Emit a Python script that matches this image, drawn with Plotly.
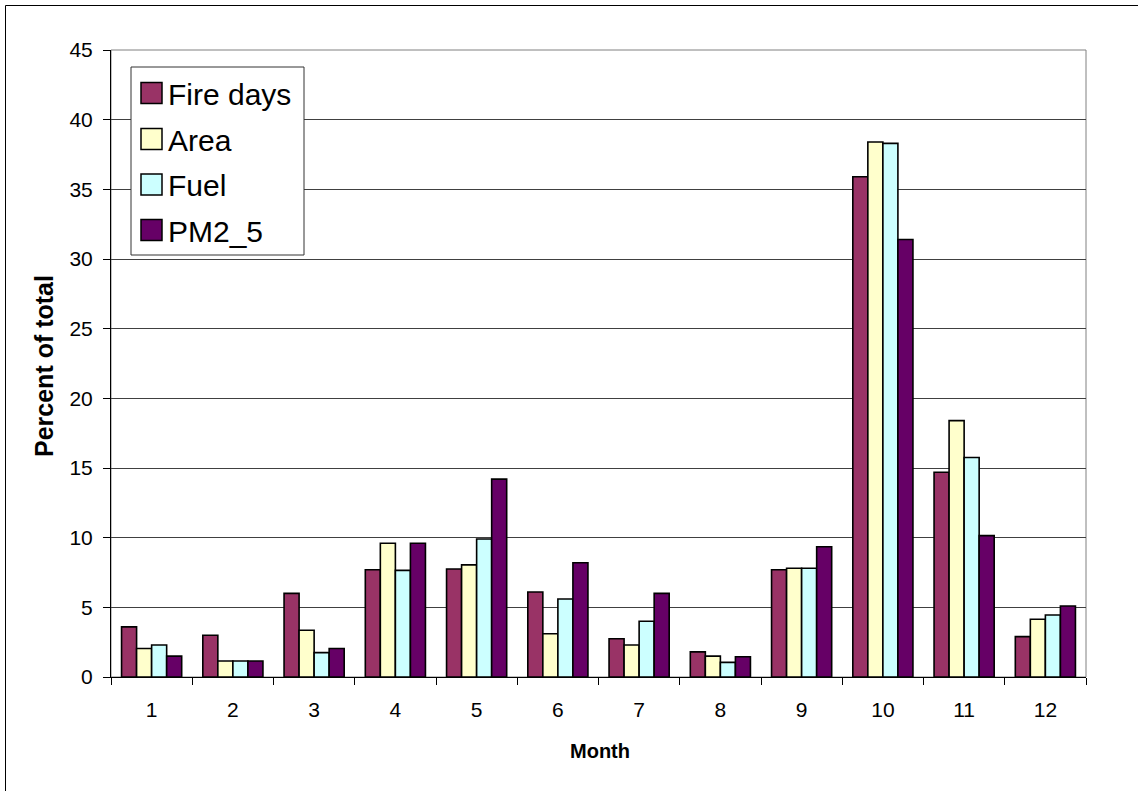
import plotly.graph_objects as go

months = ["1", "2", "3", "4", "5", "6", "7", "8", "9", "10", "11", "12"]
series_names = ["Fire days", "Area", "Fuel", "PM2_5"]
fire_days = [3.6, 3.0, 6.0, 7.7, 7.75, 6.1, 2.75, 1.8, 7.7, 35.9, 14.7, 2.9]
area = [2.05, 1.15, 3.35, 9.6, 8.05, 3.1, 2.3, 1.5, 7.8, 38.4, 18.4, 4.15]
fuel = [2.3, 1.15, 1.75, 7.65, 9.9, 5.6, 4.0, 1.05, 7.8, 38.3, 15.75, 4.45]
pm25 = [1.5, 1.15, 2.05, 9.6, 14.2, 8.2, 6.0, 1.45, 9.35, 31.4, 10.15, 5.1]
colors = ["#993366", "#FFFFCC", "#CCFFFF", "#660066"]
y_ticks = [0, 5, 10, 15, 20, 25, 30, 35, 40, 45]

FONT = "Arial, 'Liberation Sans', sans-serif"

# plot area in pixels
W, H = 1138, 791
L, R, T, B = 111, 1086, 50, 677
PW, PH = R - L, B - T


def px(x):
    return (x - L) / PW


def py(y):
    return (B - y) / PH


fig = go.Figure()
for name, vals, col in zip(series_names, [fire_days, area, fuel, pm25], colors):
    fig.add_trace(go.Bar(
        x=months, y=vals, name=name,
        marker=dict(color=col, line=dict(color="black", width=1.6)),
        showlegend=False,
    ))

shapes = [
    # plot area border (gray)
    dict(type="rect", xref="paper", yref="paper", x0=0, x1=1, y0=0, y1=1,
         line=dict(color="#808080", width=1), layer="below"),
    # outer chart border
    dict(type="rect", xref="paper", yref="paper",
         x0=px(5.5), x1=1.3, y0=-0.4, y1=py(5.5),
         line=dict(color="black", width=1), layer="above"),
    # legend box
    dict(type="rect", xref="paper", yref="paper",
         x0=px(131), x1=px(304), y0=py(255), y1=py(67),
         line=dict(color="#333333", width=1), fillcolor="white", layer="above"),
]
annotations = []
centers = [93, 139, 184.5, 230]
for name, col, cy in zip(series_names, colors, centers):
    shapes.append(dict(type="rect", xref="paper", yref="paper",
                       x0=px(141), x1=px(162), y0=py(cy + 10.5), y1=py(cy - 10.5),
                       line=dict(color="black", width=1.5), fillcolor=col, layer="above"))
    annotations.append(dict(xref="paper", yref="paper", x=px(166), y=py(cy + 1),
                            xanchor="left", yanchor="middle", showarrow=False,
                            text=name, font=dict(family=FONT, size=30, color="black")))

annotations.append(dict(xref="paper", yref="paper", x=px(600), y=py(751),
                        xanchor="center", yanchor="middle", showarrow=False,
                        text="<b>Month</b>", font=dict(family=FONT, size=20, color="black")))
annotations.append(dict(xref="paper", yref="paper", x=px(44), y=py(366),
                        xanchor="center", yanchor="middle", showarrow=False, textangle=-90,
                        text="<b>Percent of total</b>", font=dict(family=FONT, size=25, color="black")))

fig.update_layout(
    width=W, height=H,
    margin=dict(l=L, r=W - R, t=T, b=H - B),
    paper_bgcolor="white", plot_bgcolor="white",
    barmode="group", bargap=0.26, bargroupgap=0,
    font=dict(family=FONT, size=21, color="black"),
    shapes=shapes, annotations=annotations,
)
fig.update_xaxes(
    type="category", tickson="boundaries", ticks="outside", ticklen=7,
    tickcolor="black", showline=True, linecolor="black", linewidth=1,
    showgrid=False, tickfont=dict(size=21), ticklabelstandoff=14,
)
fig.update_yaxes(
    range=[0, 45], tickvals=y_ticks, ticks="outside", ticklen=7, tickcolor="black",
    showline=True, linecolor="black", linewidth=1, showgrid=True,
    gridcolor="#404040", gridwidth=1, zeroline=False, tickfont=dict(size=21),
    ticklabelstandoff=6,
)

fig.write_html("out.html")
